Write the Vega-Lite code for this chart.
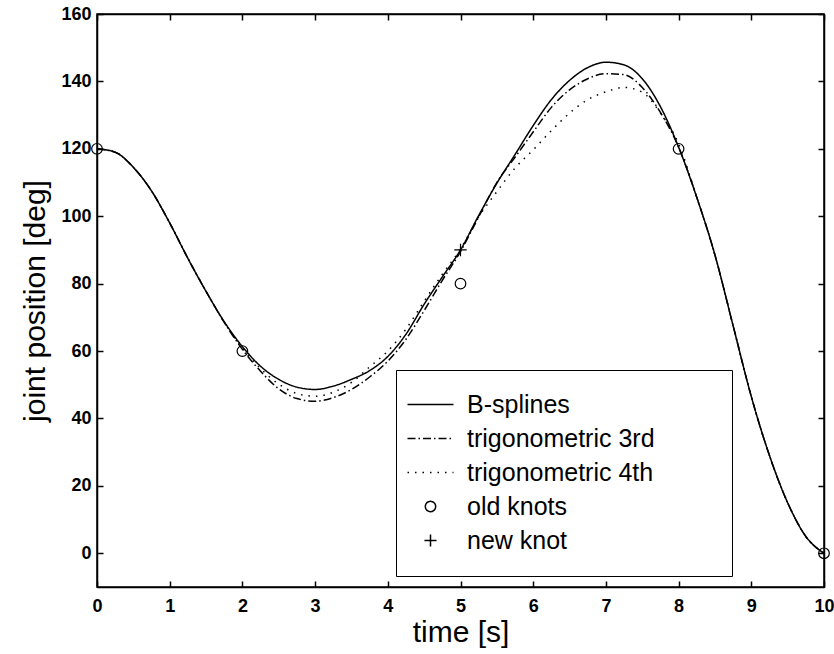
{
  "$schema": "https://vega.github.io/schema/vega-lite/v6.json",
  "width": 727,
  "height": 573,
  "autosize": {"type": "none"},
  "padding": {"left": 97, "top": 14, "right": 10, "bottom": 67},
  "background": "white",
  "config": {
    "view": {"stroke": "black", "strokeWidth": 1.5},
    "font": "Liberation Sans",
    "axis": {
      "grid": false,
      "domainColor": "black",
      "domainWidth": 1.5,
      "tickColor": "black",
      "tickWidth": 1.5,
      "tickSize": -6,
      "labelFlush": false,
      "labelColor": "black",
      "labelFont": "Liberation Sans",
      "labelFontWeight": "bold",
      "labelFontSize": 18,
      "titleColor": "black",
      "titleFont": "Liberation Sans",
      "titleFontWeight": "normal",
      "titleFontSize": 30
    },
    "legend": {"rowPadding": 8, "padding": 22}
  },
  "datasets": {
    "curves": [
      {"t": 0, "pos": 120, "series": "B-splines"},
      {"t": 0.25, "pos": 119, "series": "B-splines"},
      {"t": 0.5, "pos": 114.5, "series": "B-splines"},
      {"t": 0.75, "pos": 107.5, "series": "B-splines"},
      {"t": 1, "pos": 98, "series": "B-splines"},
      {"t": 1.25, "pos": 87.5, "series": "B-splines"},
      {"t": 1.5, "pos": 77.7, "series": "B-splines"},
      {"t": 1.75, "pos": 68.7, "series": "B-splines"},
      {"t": 2, "pos": 61.3, "series": "B-splines"},
      {"t": 2.25, "pos": 55.5, "series": "B-splines"},
      {"t": 2.5, "pos": 51.6, "series": "B-splines"},
      {"t": 2.75, "pos": 49.3, "series": "B-splines"},
      {"t": 3, "pos": 48.6, "series": "B-splines"},
      {"t": 3.25, "pos": 49.6, "series": "B-splines"},
      {"t": 3.5, "pos": 51.6, "series": "B-splines"},
      {"t": 3.75, "pos": 54.2, "series": "B-splines"},
      {"t": 4, "pos": 58.4, "series": "B-splines"},
      {"t": 4.25, "pos": 65, "series": "B-splines"},
      {"t": 4.5, "pos": 73.9, "series": "B-splines"},
      {"t": 4.75, "pos": 82, "series": "B-splines"},
      {"t": 5, "pos": 90, "series": "B-splines"},
      {"t": 5.25, "pos": 100.2, "series": "B-splines"},
      {"t": 5.5, "pos": 109.8, "series": "B-splines"},
      {"t": 5.75, "pos": 118.3, "series": "B-splines"},
      {"t": 6, "pos": 126.9, "series": "B-splines"},
      {"t": 6.25, "pos": 134.6, "series": "B-splines"},
      {"t": 6.5, "pos": 140.3, "series": "B-splines"},
      {"t": 6.75, "pos": 144.1, "series": "B-splines"},
      {"t": 7, "pos": 145.7, "series": "B-splines"},
      {"t": 7.25, "pos": 144.9, "series": "B-splines"},
      {"t": 7.5, "pos": 140.8, "series": "B-splines"},
      {"t": 7.75, "pos": 132.5, "series": "B-splines"},
      {"t": 8, "pos": 120.5, "series": "B-splines"},
      {"t": 8.25, "pos": 105.6, "series": "B-splines"},
      {"t": 8.5, "pos": 88.5, "series": "B-splines"},
      {"t": 8.75, "pos": 67.5, "series": "B-splines"},
      {"t": 9, "pos": 46.5, "series": "B-splines"},
      {"t": 9.25, "pos": 29, "series": "B-splines"},
      {"t": 9.5, "pos": 15, "series": "B-splines"},
      {"t": 9.75, "pos": 5, "series": "B-splines"},
      {"t": 10, "pos": 0, "series": "B-splines"},

      {"t": 0, "pos": 120, "series": "trigonometric 3rd"},
      {"t": 0.25, "pos": 119, "series": "trigonometric 3rd"},
      {"t": 0.5, "pos": 114.5, "series": "trigonometric 3rd"},
      {"t": 0.75, "pos": 107.5, "series": "trigonometric 3rd"},
      {"t": 1, "pos": 98, "series": "trigonometric 3rd"},
      {"t": 1.25, "pos": 87.5, "series": "trigonometric 3rd"},
      {"t": 1.5, "pos": 77.7, "series": "trigonometric 3rd"},
      {"t": 1.75, "pos": 68.5, "series": "trigonometric 3rd"},
      {"t": 2, "pos": 60.5, "series": "trigonometric 3rd"},
      {"t": 2.25, "pos": 54, "series": "trigonometric 3rd"},
      {"t": 2.5, "pos": 48.8, "series": "trigonometric 3rd"},
      {"t": 2.75, "pos": 45.9, "series": "trigonometric 3rd"},
      {"t": 3, "pos": 45.1, "series": "trigonometric 3rd"},
      {"t": 3.25, "pos": 46.2, "series": "trigonometric 3rd"},
      {"t": 3.5, "pos": 48.6, "series": "trigonometric 3rd"},
      {"t": 3.75, "pos": 52.3, "series": "trigonometric 3rd"},
      {"t": 4, "pos": 57, "series": "trigonometric 3rd"},
      {"t": 4.25, "pos": 63.5, "series": "trigonometric 3rd"},
      {"t": 4.5, "pos": 72, "series": "trigonometric 3rd"},
      {"t": 4.75, "pos": 81, "series": "trigonometric 3rd"},
      {"t": 5, "pos": 89.5, "series": "trigonometric 3rd"},
      {"t": 5.25, "pos": 99.8, "series": "trigonometric 3rd"},
      {"t": 5.5, "pos": 110, "series": "trigonometric 3rd"},
      {"t": 5.75, "pos": 117.5, "series": "trigonometric 3rd"},
      {"t": 6, "pos": 125, "series": "trigonometric 3rd"},
      {"t": 6.25, "pos": 132.3, "series": "trigonometric 3rd"},
      {"t": 6.5, "pos": 137.5, "series": "trigonometric 3rd"},
      {"t": 6.75, "pos": 140.8, "series": "trigonometric 3rd"},
      {"t": 7, "pos": 142.3, "series": "trigonometric 3rd"},
      {"t": 7.25, "pos": 142, "series": "trigonometric 3rd"},
      {"t": 7.5, "pos": 138.2, "series": "trigonometric 3rd"},
      {"t": 7.75, "pos": 130.8, "series": "trigonometric 3rd"},
      {"t": 8, "pos": 120.5, "series": "trigonometric 3rd"},
      {"t": 8.25, "pos": 105.6, "series": "trigonometric 3rd"},
      {"t": 8.5, "pos": 88.5, "series": "trigonometric 3rd"},
      {"t": 8.75, "pos": 67.5, "series": "trigonometric 3rd"},
      {"t": 9, "pos": 46.5, "series": "trigonometric 3rd"},
      {"t": 9.25, "pos": 29, "series": "trigonometric 3rd"},
      {"t": 9.5, "pos": 15, "series": "trigonometric 3rd"},
      {"t": 9.75, "pos": 5, "series": "trigonometric 3rd"},
      {"t": 10, "pos": 0, "series": "trigonometric 3rd"},

      {"t": 0, "pos": 120, "series": "trigonometric 4th"},
      {"t": 0.25, "pos": 119, "series": "trigonometric 4th"},
      {"t": 0.5, "pos": 114.5, "series": "trigonometric 4th"},
      {"t": 0.75, "pos": 107.5, "series": "trigonometric 4th"},
      {"t": 1, "pos": 98, "series": "trigonometric 4th"},
      {"t": 1.25, "pos": 87.5, "series": "trigonometric 4th"},
      {"t": 1.5, "pos": 77.7, "series": "trigonometric 4th"},
      {"t": 1.75, "pos": 68.6, "series": "trigonometric 4th"},
      {"t": 2, "pos": 60.8, "series": "trigonometric 4th"},
      {"t": 2.25, "pos": 54.8, "series": "trigonometric 4th"},
      {"t": 2.5, "pos": 50.2, "series": "trigonometric 4th"},
      {"t": 2.75, "pos": 47.4, "series": "trigonometric 4th"},
      {"t": 3, "pos": 46.6, "series": "trigonometric 4th"},
      {"t": 3.25, "pos": 47.8, "series": "trigonometric 4th"},
      {"t": 3.5, "pos": 50.7, "series": "trigonometric 4th"},
      {"t": 3.75, "pos": 55.3, "series": "trigonometric 4th"},
      {"t": 4, "pos": 60, "series": "trigonometric 4th"},
      {"t": 4.25, "pos": 66.5, "series": "trigonometric 4th"},
      {"t": 4.5, "pos": 74.8, "series": "trigonometric 4th"},
      {"t": 4.75, "pos": 82.8, "series": "trigonometric 4th"},
      {"t": 5, "pos": 90.3, "series": "trigonometric 4th"},
      {"t": 5.25, "pos": 99.8, "series": "trigonometric 4th"},
      {"t": 5.5, "pos": 107.3, "series": "trigonometric 4th"},
      {"t": 5.75, "pos": 114.3, "series": "trigonometric 4th"},
      {"t": 6, "pos": 119.7, "series": "trigonometric 4th"},
      {"t": 6.25, "pos": 125.4, "series": "trigonometric 4th"},
      {"t": 6.5, "pos": 130.6, "series": "trigonometric 4th"},
      {"t": 6.75, "pos": 134.6, "series": "trigonometric 4th"},
      {"t": 7, "pos": 136.9, "series": "trigonometric 4th"},
      {"t": 7.25, "pos": 138.2, "series": "trigonometric 4th"},
      {"t": 7.5, "pos": 136.8, "series": "trigonometric 4th"},
      {"t": 7.75, "pos": 130.6, "series": "trigonometric 4th"},
      {"t": 8, "pos": 121.5, "series": "trigonometric 4th"},
      {"t": 8.25, "pos": 105.6, "series": "trigonometric 4th"},
      {"t": 8.5, "pos": 88.5, "series": "trigonometric 4th"},
      {"t": 8.75, "pos": 67.5, "series": "trigonometric 4th"},
      {"t": 9, "pos": 46.5, "series": "trigonometric 4th"},
      {"t": 9.25, "pos": 29, "series": "trigonometric 4th"},
      {"t": 9.5, "pos": 15, "series": "trigonometric 4th"},
      {"t": 9.75, "pos": 5, "series": "trigonometric 4th"},
      {"t": 10, "pos": 0, "series": "trigonometric 4th"}
    ],
    "knots": [
      {"t": 0, "pos": 120, "series": "old knots"},
      {"t": 2, "pos": 60, "series": "old knots"},
      {"t": 5, "pos": 80, "series": "old knots"},
      {"t": 8, "pos": 120, "series": "old knots"},
      {"t": 10, "pos": 0, "series": "old knots"},
      {"t": 5, "pos": 90, "series": "new knot"}
    ]
  },
  "resolve": {"axis": {"x": "independent", "y": "independent"}},
  "layer": [
    {
      "data": {"name": "curves"},
      "mark": {"type": "line", "color": "black", "strokeWidth": 1.5, "interpolate": "monotone", "clip": true},
      "encoding": {
        "x": {
          "field": "t", "type": "quantitative",
          "scale": {"domain": [0, 10], "nice": false, "zero": false},
          "axis": {"orient": "bottom", "values": [0,1,2,3,4,5,6,7,8,9,10], "format": "d", "labelPadding": 16, "title": "time [s]", "titlePadding": 2}
        },
        "y": {
          "field": "pos", "type": "quantitative",
          "scale": {"domain": [-10, 160], "nice": false, "zero": false},
          "axis": {"orient": "left", "values": [0,20,40,60,80,100,120,140,160], "format": "d", "labelPadding": 12, "title": "joint position [deg]", "titlePadding": 10}
        },
        "strokeDash": {
          "field": "series", "type": "nominal",
          "scale": {
            "domain": ["B-splines", "trigonometric 3rd", "trigonometric 4th", "old knots", "new knot"],
            "range": [[1, 0], [8, 3, 1.5, 3], [1.5, 6], [1, 0], [1, 0]]
          },
          "legend": {
            "title": "\u00a0",
            "titleOrient": "right",
            "titleFontSize": 8,
            "titlePadding": 55,
            "orient": "none",
            "legendX": 299,
            "legendY": 356,
            "padding": 22,
            "rowPadding": 8,
            "symbolSize": 484,
            "symbolOffset": 0,
            "symbolStrokeWidth": 1.5,
            "symbolStrokeColor": "black",
            "symbolFillColor": "transparent",
            "labelFont": "Liberation Sans",
            "labelFontSize": 25,
            "labelColor": "black",
            "labelOffset": 24,
            "labelLimit": 0,
            "strokeColor": "black",
            "fillColor": "white"
          }
        }
      }
    },
    {
      "data": {"name": "knots"},
      "mark": {"type": "point", "color": "black", "filled": false, "strokeWidth": 1.2, "size": 510, "opacity": 1, "clip": false},
      "encoding": {
        "x": {
          "field": "t", "type": "quantitative",
          "axis": {"orient": "top", "values": [0,1,2,3,4,5,6,7,8,9,10], "labels": false, "title": null}
        },
        "y": {
          "field": "pos", "type": "quantitative",
          "axis": {"orient": "right", "values": [0,20,40,60,80,100,120,140,160], "labels": false, "title": null}
        },
        "shape": {
          "field": "series", "type": "nominal",
          "scale": {
            "domain": ["B-splines", "trigonometric 3rd", "trigonometric 4th", "old knots", "new knot"],
            "range": ["M-2.09,0L2.09,0", "M-2.09,0L2.09,0", "M-2.09,0L2.09,0", "M-0.47,0A0.47,0.47,0,1,1,0.47,0A0.47,0.47,0,1,1,-0.47,0Z", "M-0.55,0L0.55,0M0,-0.55L0,0.55"]
          },
          "legend": {
            "title": "\u00a0",
            "titleOrient": "right",
            "titleFontSize": 8,
            "titlePadding": 55,
            "orient": "none",
            "legendX": 299,
            "legendY": 356,
            "padding": 22,
            "rowPadding": 8,
            "symbolSize": 484,
            "symbolOffset": 0,
            "symbolStrokeWidth": 1.5,
            "symbolStrokeColor": "black",
            "symbolFillColor": "transparent",
            "labelFont": "Liberation Sans",
            "labelFontSize": 25,
            "labelColor": "black",
            "labelOffset": 24,
            "labelLimit": 0,
            "strokeColor": "black",
            "fillColor": "white"
          }
        }
      }
    }
  ]
}
